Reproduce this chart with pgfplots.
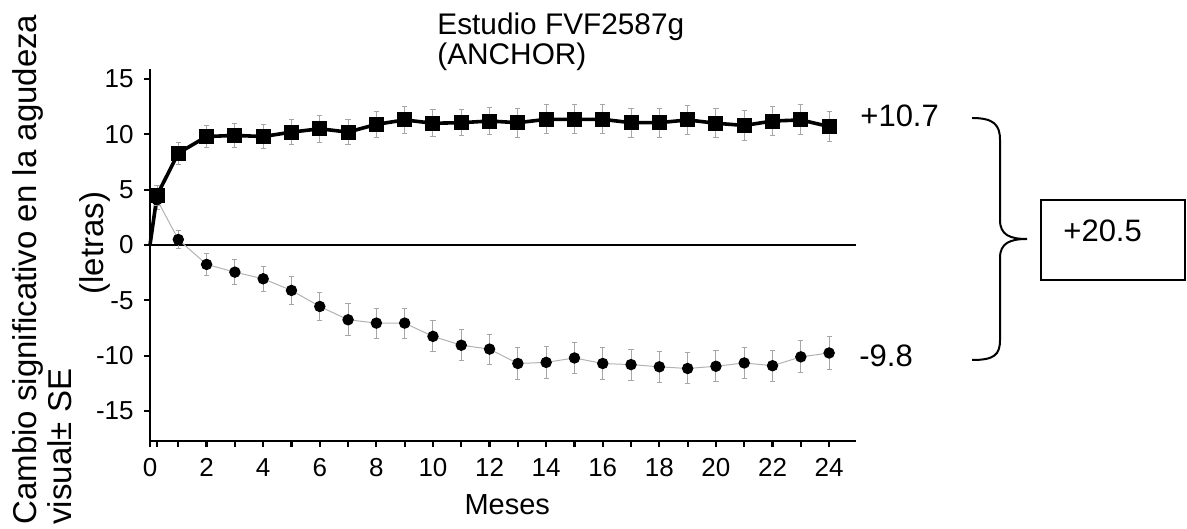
\documentclass[border=0pt]{standalone}
\usepackage{pgfplots}
\pgfplotsset{compat=1.18}
\usepackage{pgfplotstable}
\usepackage{fontspec}
\setmainfont{Liberation Sans}

% month, change, SE
\pgfplotstableread{
x y e
0.25 4.5 0.9
1 8.3 1.0
2 9.8 1.0
3 9.9 1.1
4 9.8 1.1
5 10.2 1.1
6 10.5 1.2
7 10.2 1.1
8 10.9 1.15
9 11.3 1.25
10 11.0 1.2
11 11.05 1.2
12 11.2 1.25
13 11.05 1.3
14 11.35 1.3
15 11.35 1.3
16 11.35 1.3
17 11.05 1.3
18 11.05 1.3
19 11.3 1.3
20 11.0 1.3
21 10.8 1.35
22 11.2 1.3
23 11.3 1.35
24 10.7 1.35
}\ranib

\pgfplotstableread{
x y e
0.25 4.1 0.9
1 0.5 0.85
2 -1.75 1.0
3 -2.45 1.15
4 -3.05 1.15
5 -4.1 1.25
6 -5.55 1.25
7 -6.75 1.45
8 -7.05 1.35
9 -7.05 1.35
10 -8.25 1.4
11 -9.05 1.4
12 -9.4 1.35
13 -10.7 1.45
14 -10.6 1.45
15 -10.2 1.4
16 -10.7 1.45
17 -10.8 1.4
18 -11.0 1.4
19 -11.15 1.4
20 -10.95 1.4
21 -10.65 1.4
22 -10.9 1.4
23 -10.1 1.45
24 -9.75 1.47
}\control

\begin{document}
\begin{tikzpicture}
\useasboundingbox (-75pt,-44pt) rectangle (518.5pt,220.5pt);
\begin{axis}[
    at={(0,0)}, anchor=south west,
    scale only axis, width=353pt, height=186pt,
    xmin=0, xmax=24.95, ymin=-17.7, ymax=15.9,
    axis x line=bottom, axis y line=left,
    axis line style={-, line width=1.3pt},
    tick align=outside,
    tick style={black, line width=1.1pt},
    major tick length=3pt, minor tick length=3pt,
    xtick={0,2,...,24}, minor xtick={0.25,1,3,...,23},
    ytick={-15,-10,...,15},
    tick label style={font=\fontsize{13}{13}\selectfont},
    /pgf/number format/assume math mode=true,
    yticklabel style={anchor=east, inner sep=0pt, xshift=-5pt},
    xticklabel style={anchor=north, inner sep=0pt, yshift=-5.5pt},
    xlabel={Meses},
    xlabel style={at={(axis description cs:0.506,0)}, anchor=base,
        yshift=-36.5pt, font=\fontsize{14.5}{14.5}\selectfont},
    clip=false,
    error bars/y dir=both, error bars/y explicit,
]
% zero line
\addplot[black, line width=1.4pt, no marks, forget plot] coordinates {(0,0) (24.95,0)};

% control arm
\addplot[gray!60, line width=0.5pt, no marks] coordinates {(0,0) (0.25,4.1)};
\addplot[gray!60, line width=0.5pt, mark=*, mark size=2.6pt,
    mark options={black, fill=black},
    error bars/error bar style={gray!70, line width=0.5pt},
    error bars/error mark options={rotate=90, mark size=1.3pt, gray!70, line width=0.5pt}]
    table[x=x, y=y, y error=e] {\control};

% ranibizumab arm
\addplot[black, line width=1.8pt, no marks] coordinates {(0,0) (0.25,4.5)};
\addplot[black, line width=1.8pt, mark=square*, mark size=3.5pt,
    mark options={black, fill=black, line width=0.5pt},
    error bars/error bar style={gray!70, line width=0.5pt},
    error bars/error mark options={rotate=90, mark size=1.3pt, gray!70, line width=0.5pt}]
    table[x=x, y=y, y error=e] {\ranib};
\end{axis}

% title
\node[anchor=base west, inner sep=0pt, font=\fontsize{14.9}{14.9}\selectfont] at (143.5pt,203pt) {Estudio FVF2587g};
\node[anchor=base west, inner sep=0pt, font=\fontsize{14.9}{14.9}\selectfont] at (143.5pt,188pt) {(ANCHOR)};

% y label
\node[anchor=base west, inner sep=0pt, rotate=90, font=\fontsize{16.5}{16.5}\selectfont] at (-56.5pt,-42pt) {Cambio significativo en la agudeza};
\node[anchor=base west, inner sep=0pt, rotate=90, font=\fontsize{16.5}{16.5}\selectfont] at (-39pt,-42pt) {visual± SE};
\node[anchor=base, inner sep=0pt, rotate=90, font=\fontsize{16.5}{16.5}\selectfont] at (-23pt,99pt) {(letras)};

% end values
\node[anchor=base west, inner sep=0pt, font=\fontsize{15.5}{15.5}\selectfont] at (355pt,157pt) {+10.7};
\node[anchor=base west, inner sep=0pt, font=\fontsize{15.5}{15.5}\selectfont] at (354.5pt,37pt) {-9.8};

% brace and difference box
\draw[line width=1pt] (411pt,161.5pt) .. controls (422pt,161.5pt) and (425pt,158pt) .. (425pt,150.5pt)
    -- (425pt,110.5pt) .. controls (425pt,103pt) and (430pt,101pt) .. (438.5pt,101pt)
    .. controls (430pt,101pt) and (425pt,99pt) .. (425pt,91.5pt)
    -- (425pt,50.5pt) .. controls (425pt,43pt) and (422pt,40.5pt) .. (411pt,40.5pt);
\draw[line width=1pt] (445.5pt,80.5pt) rectangle (517.5pt,120.5pt);
\node[anchor=base west, inner sep=0pt, font=\fontsize{15.5}{15.5}\selectfont] at (456.5pt,99.5pt) {+20.5};
\end{tikzpicture}
\end{document}
